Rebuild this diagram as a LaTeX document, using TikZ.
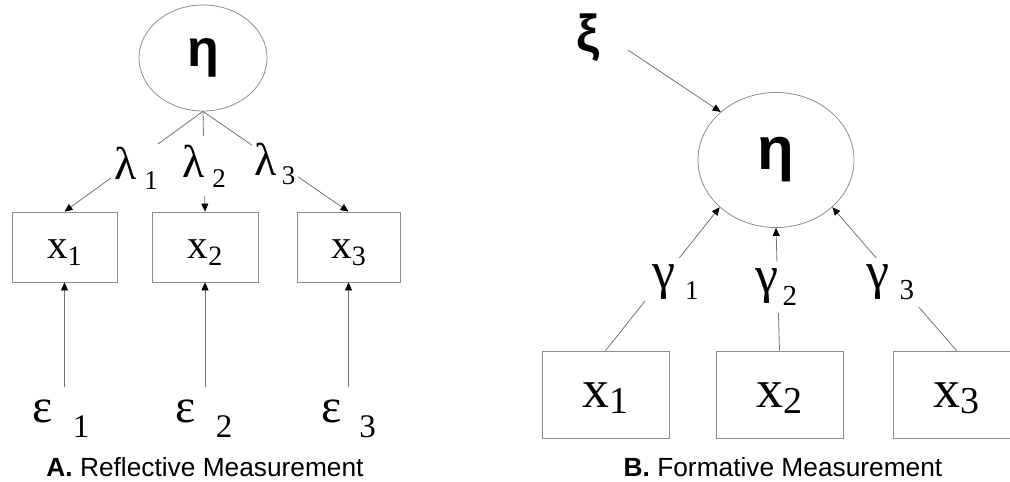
\documentclass[tikz,border=0pt]{standalone}
\usepackage{fontspec}
\setmainfont{Liberation Serif}
\newfontfamily\labelfont{Liberation Sans}
\usetikzlibrary{arrows.meta, positioning, shapes.geometric}

\newcommand{\fsz}[1]{\fontsize{#1}{#1}\selectfont}
\newcommand{\drop}[3]{\raisebox{-#2pt}{\fsz{#1}#3}}

\begin{document}
\begin{tikzpicture}[x=1pt, y=-1pt,
    latent/.style={draw=black!45, line width=0.8pt, ellipse, inner sep=0pt},
    manifest/.style={draw=black!45, line width=0.8pt, rectangle, inner sep=0pt},
    coef/.style={fill=white, inner sep=3pt},
    link/.style={draw=black!55, line width=0.8pt, -{Triangle[length=8pt, width=7pt, color=black]}}]
    \useasboundingbox (0,0) rectangle (1010,482);

    % A. reflective
    \node[latent, minimum width=128pt, minimum height=106pt] (etaA) at (203,58) {\labelfont\bfseries\fsz{52}η};
    \node[manifest, minimum width=105pt, minimum height=70pt, text height=22pt, text depth=0pt] (xA1) at (64.5,247) {\fsz{41}x\drop{28}{7}{1}};
    \node[manifest, minimum width=106pt, minimum height=70pt, text height=22pt, text depth=0pt] (xA2) at (205,247) {\fsz{41}x\drop{28}{7}{2}};
    \node[manifest, minimum width=103pt, minimum height=70pt, text height=22pt, text depth=0pt] (xA3) at (348.5,247) {\fsz{41}x\drop{28}{7}{3}};
    \node[inner ysep=12pt] (eps1) at (61,418.5) {\fsz{48}ε\hspace{20pt}\drop{33}{15}{1}};
    \node[inner ysep=12pt] (eps2) at (204,418.5) {\fsz{48}ε\hspace{20pt}\drop{33}{15}{2}};
    \node[inner ysep=12pt] (eps3) at (348.5,418.5) {\fsz{48}ε\hspace{18pt}\drop{33}{15}{3}};
    \draw[link] (etaA.south) -- (xA1.north);
    \draw[link] (etaA.south) -- (xA2.north);
    \draw[link] (etaA.south) -- (xA3.north);
    \node[coef] (lam1) at (136,168) {\fsz{46}λ\hspace{8pt}\drop{27}{10}{1}};
    \node[coef, inner ysep=9pt] (lam2) at (204,166) {\fsz{46}λ\hspace{8pt}\drop{27}{10}{2}};
    \node[coef] (lam3) at (275,164) {\fsz{46}λ\hspace{5pt}\drop{27}{9}{3}};
    \draw[link] (eps1.north -| xA1.south) -- (xA1.south);
    \draw[link] (eps2.north -| xA2.south) -- (xA2.south);
    \draw[link] (eps3.north -| xA3.south) -- (xA3.south);
    \node (capA) at (205,467) {\labelfont\fsz{26.3}\textbf{A.} Reflective Measurement};

    % B. formative
    \node (xi) at (588,38) {\labelfont\bfseries\fsz{52}ξ};
    \coordinate (xiout) at (628,50);
    \node[latent, minimum width=156pt, minimum height=135pt] (etaB) at (776,160) {\labelfont\bfseries\fsz{60}η};
    \node[manifest, minimum width=127pt, minimum height=87pt, text height=25pt, text depth=0pt] (xB1) at (605.5,394.5) {\fsz{54}x\drop{38}{6}{1}};
    \node[manifest, minimum width=127pt, minimum height=87pt, text height=25pt, text depth=0pt] (xB2) at (779.5,394.5) {\fsz{54}x\drop{38}{6}{2}};
    \node[manifest, minimum width=127pt, minimum height=87pt, text height=25pt, text depth=0pt] (xB3) at (956.5,394.5) {\fsz{54}x\drop{38}{6}{3}};
    \draw[link] (xiout) -- (etaB.139);
    \draw[link] (xB1.north) -- (etaB.220);
    \draw[link] (xB2.north) -- (etaB.south);
    \draw[link] (xB3.north) -- (etaB.320);
    \node[coef, inner sep=7pt] (gam1) at (675.5,282.5) {\fsz{52}γ\hspace{10pt}\drop{27}{11}{1}};
    \node[coef, inner sep=7pt] (gam2) at (776.5,287.5) {\fsz{52}γ\hspace{4pt}\drop{29}{13}{2}};
    \node[coef, inner sep=7pt] (gam3) at (890.5,282.5) {\fsz{52}γ\hspace{10pt}\drop{29}{11}{3}};
    \node (capB) at (783,467) {\labelfont\fsz{26.3}\textbf{B.} Formative Measurement};
\end{tikzpicture}
\end{document}
